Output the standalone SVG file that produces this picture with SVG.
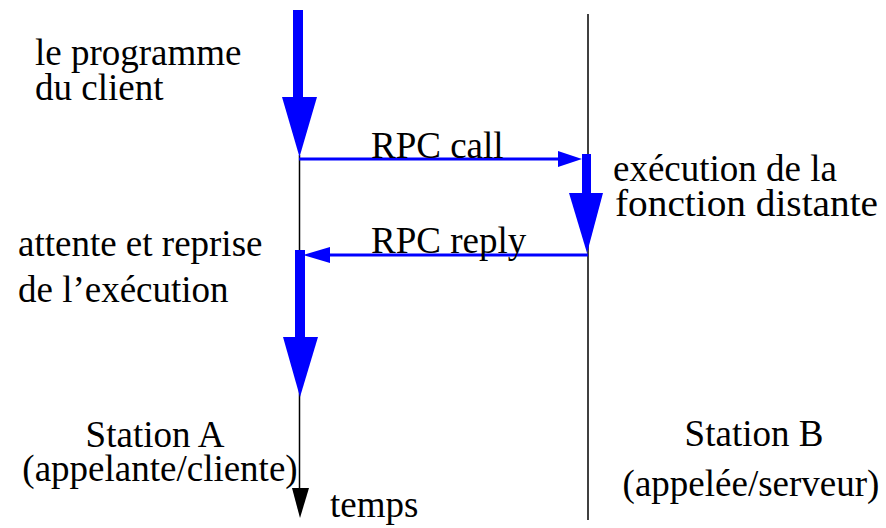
<svg xmlns="http://www.w3.org/2000/svg" width="886" height="528" viewBox="0 0 886 528">
<style>
text{font-family:"Liberation Serif","Times New Roman",serif;font-size:37px;fill:#000}
.life{stroke:#000;stroke-width:1.5;fill:none}
.msg{stroke:#0000ff;stroke-width:3;fill:none}
.blue{fill:#0000ff}
</style>
<rect width="886" height="528" fill="#fff"/>
<g id="lifelineA">
<line class="life" x1="299.5" y1="155" x2="299.5" y2="492"/>
<polygon fill="#000" points="292,488 309,488 300,518"/>
<text x="330" y="517" font-size="35">temps</text>
</g>
<g id="lifelineB">
<line class="life" x1="588" y1="14" x2="588" y2="520"/>
</g>
<g id="clientProgram">
<rect class="blue" x="293" y="10" width="10" height="88"/>
<polygon class="blue" points="282,97 317,97 299.5,157"/>
<text x="35" y="65" font-size="35">le programme</text>
<text x="35" y="100" font-size="35">du client</text>
</g>
<g id="serverExecution">
<rect class="blue" x="582" y="154" width="9" height="40"/>
<polygon class="blue" points="569,193 603,193 587,253"/>
<text x="613" y="181">exécution de la</text>
<text x="615" y="216" textLength="263" lengthAdjust="spacingAndGlyphs">fonction distante</text>
</g>
<g id="clientResume">
<rect class="blue" x="295" y="250" width="10" height="88"/>
<polygon class="blue" points="283,337 318,337 300,397"/>
<text x="18" y="256">attente et reprise</text>
<text x="18" y="302">de l’exécution</text>
</g>
<g id="stationA">
<text x="155" y="447" text-anchor="middle">Station A</text>
<text x="160" y="481" text-anchor="middle">(appelante/cliente)</text>
</g>
<g id="stationB">
<text x="754" y="446" text-anchor="middle">Station B</text>
<text x="751" y="496" text-anchor="middle">(appelée/serveur)</text>
</g>
<g id="connectors">
<line class="msg" x1="299" y1="159" x2="560" y2="159"/>
<polygon class="blue" points="558,151 582,159 558,167"/>
<text x="371" y="158">RPC call</text>
<line class="msg" x1="588" y1="255" x2="328" y2="255"/>
<polygon class="blue" points="330,247 303,255 330,263"/>
<text x="371" y="253">RPC reply</text>
</g>
</svg>
